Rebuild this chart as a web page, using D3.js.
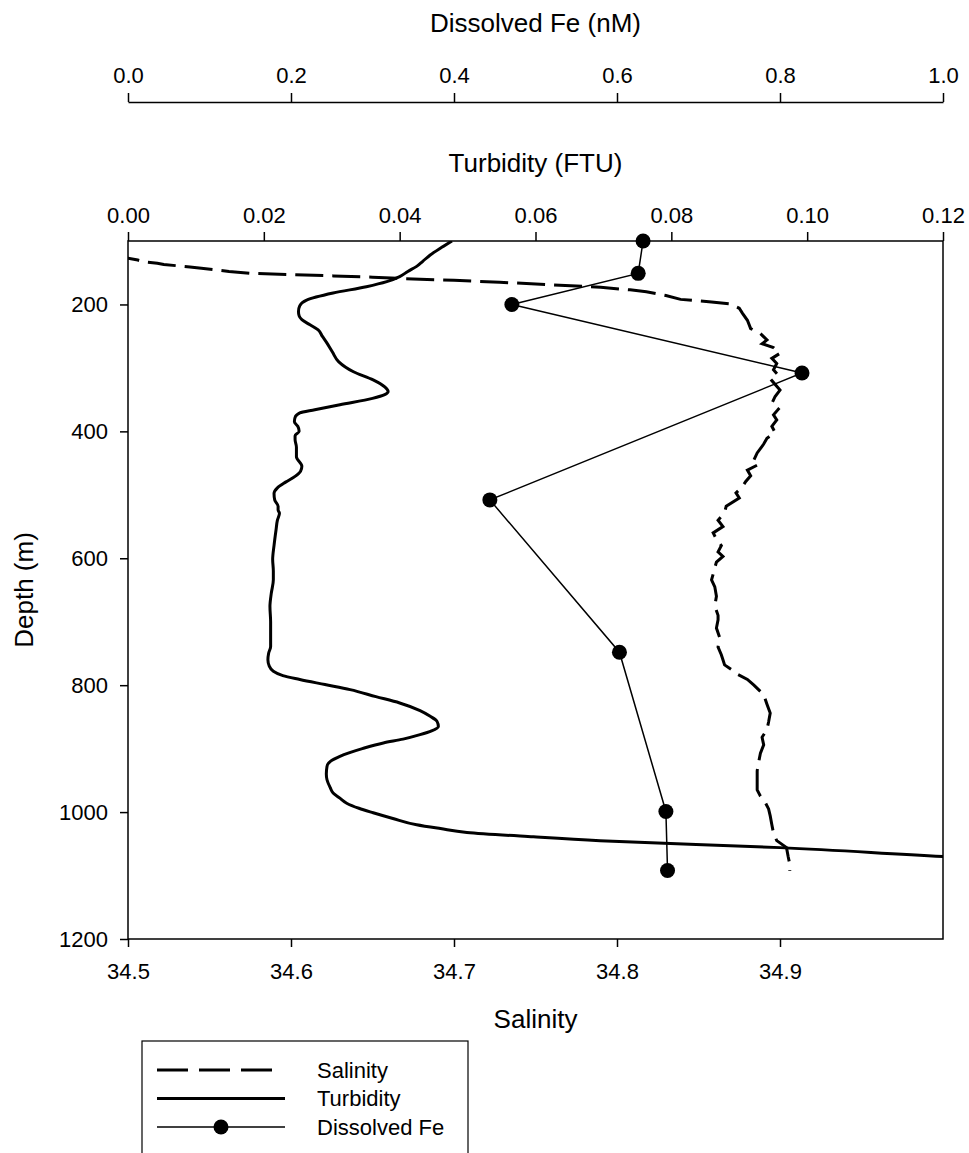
<!DOCTYPE html>
<html>
<head>
<meta charset="utf-8">
<script src="https://cdn.jsdelivr.net/npm/d3@7"></script>
<style>
  body { margin: 0; background: #fff; }
  svg { display: block; font-family: "Liberation Sans", Arial, sans-serif; }
  .axis text { font-size: 22px; fill: #000; }
  .axis line, .axis path { stroke: #000; stroke-width: 1.5; }
  .title { font-size: 26px; fill: #000; }
</style>
</head>
<body>
<div id="chart"></div>
<script>
// depth (m) of each sample
var feDepth = [100, 151, 200, 308, 508, 748, 999, 1092];
var feValue = [0.632, 0.626, 0.471, 0.827, 0.444, 0.603, 0.660, 0.662];

// CTD turbidity profile: [depth, FTU]
var turbidity = [
  [100, 0.0477], [110, 0.0462], [122, 0.0445], [132, 0.0434], [140, 0.0425], [148, 0.0412],
  [156, 0.0400], [164, 0.0381], [172, 0.0351], [182, 0.0302], [193, 0.0263], [202, 0.0253],
  [211, 0.0251], [218, 0.0252], [224, 0.0256], [232, 0.0268], [240, 0.0280], [250, 0.0286],
  [261, 0.0293], [275, 0.0301], [290, 0.0310], [306, 0.0332], [319, 0.0361], [330, 0.0378],
  [337, 0.0383], [342, 0.0378], [348, 0.0360], [358, 0.0312], [366, 0.0275], [371, 0.0253],
  [378, 0.0246], [385, 0.0245], [392, 0.0250], [400, 0.0252], [407, 0.0246], [413, 0.0246],
  [425, 0.0248], [440, 0.0248], [455, 0.0256], [463, 0.0254], [471, 0.0246], [480, 0.0232],
  [489, 0.0220], [498, 0.0215], [508, 0.0216], [518, 0.0221], [524, 0.0221], [529, 0.0223],
  [540, 0.0220], [555, 0.0218], [580, 0.0215], [602, 0.0213], [620, 0.0214], [634, 0.0214],
  [655, 0.0211], [676, 0.0209], [700, 0.0210], [720, 0.0210], [739, 0.0210], [750, 0.0207],
  [760, 0.0206], [770, 0.0208], [778, 0.0214], [785, 0.0228], [791, 0.0253], [799, 0.0290],
  [807, 0.0327], [818, 0.0365], [828, 0.0400], [840, 0.0430], [849, 0.0445], [857, 0.0455],
  [865, 0.0457], [872, 0.0447], [878, 0.0430], [885, 0.0405], [891, 0.0376], [900, 0.0345],
  [912, 0.0312], [920, 0.0298], [928, 0.0293], [940, 0.0292], [949, 0.0293], [962, 0.0298],
  [970, 0.0302], [978, 0.0312], [986, 0.0322], [994, 0.0340], [1001, 0.0361], [1010, 0.0390],
  [1020, 0.0425], [1026, 0.0460], [1032, 0.0499], [1039, 0.0597], [1045, 0.0695],
  [1056, 0.0960], [1070, 0.1200], [1075, 0.1300]
];

// CTD salinity profile: [depth, salinity]
var salinity = [
  [122, 34.490], [127, 34.500], [130, 34.506], [133, 34.510], [135, 34.518], [137, 34.522],
  [139, 34.530], [141, 34.538], [143, 34.545], [145, 34.552], [148, 34.562], [151, 34.575],
  [153, 34.600], [155, 34.626], [157, 34.650], [159, 34.667], [162, 34.700], [165, 34.728],
  [169, 34.760], [173, 34.790], [177, 34.808], [180, 34.818], [186, 34.830], [192, 34.839],
  [196, 34.858], [199, 34.869], [206, 34.875], [214, 34.877], [225, 34.880], [238, 34.882],
  [246, 34.888], [256, 34.892], [262, 34.889], [268, 34.896], [277, 34.900], [285, 34.895],
  [293, 34.898], [303, 34.896], [312, 34.899], [320, 34.895], [335, 34.900], [345, 34.897],
  [356, 34.895], [365, 34.899], [374, 34.896], [382, 34.898], [392, 34.895], [402, 34.897],
  [411, 34.892], [420, 34.890], [434, 34.886], [445, 34.884], [452, 34.887], [461, 34.880],
  [470, 34.882], [479, 34.879], [487, 34.877], [497, 34.873], [505, 34.875], [518, 34.867],
  [528, 34.866], [540, 34.862], [550, 34.865], [560, 34.859], [570, 34.861], [580, 34.864],
  [590, 34.862], [597, 34.865], [606, 34.861], [615, 34.860], [625, 34.859], [634, 34.858],
  [645, 34.860], [660, 34.861], [675, 34.860], [690, 34.862], [697, 34.862], [710, 34.861],
  [725, 34.863], [740, 34.862], [752, 34.864], [760, 34.865], [768, 34.866], [775, 34.870],
  [783, 34.874], [791, 34.880], [800, 34.884], [815, 34.890], [830, 34.892], [844, 34.894],
  [858, 34.893], [870, 34.892], [882, 34.889], [894, 34.890], [907, 34.888], [920, 34.887],
  [935, 34.886], [950, 34.886], [965, 34.886], [975, 34.888], [985, 34.891], [995, 34.893],
  [1006, 34.894], [1020, 34.895], [1033, 34.896], [1045, 34.898], [1056, 34.904],
  [1070, 34.905], [1082, 34.906], [1093, 34.906]
];

var depthTicks = [200, 400, 600, 800, 1000, 1200];
var salTicks = [34.5, 34.6, 34.7, 34.8, 34.9];
var turbTicks = [0, 0.02, 0.04, 0.06, 0.08, 0.10, 0.12];
var feTicks = [0, 0.2, 0.4, 0.6, 0.8, 1.0];
var legendItems = ['Salinity', 'Turbidity', 'Dissolved Fe'];

var W = 969, H = 1153;
var margin = {top: 241, right: 26, bottom: 214, left: 128};
var width = W - margin.left - margin.right;   // 815
var height = H - margin.top - margin.bottom;  // 698

var svg = d3.select('#chart').append('svg')
  .attr('width', W)
  .attr('height', H);

var g = svg.append('g')
  .attr('transform', 'translate(' + margin.left + ',' + margin.top + ')');

// scales
var y = d3.scaleLinear().domain([100, 1200]).range([0, height]);
var xSal = d3.scaleLinear().domain([34.5, 35.0]).range([0, width]);
var xTurb = d3.scaleLinear().domain([0, 0.12]).range([0, width]);
var xFe = d3.scaleLinear().domain([0, 1]).range([0, width]);

g.append('clipPath').attr('id', 'plotclip')
  .append('rect').attr('width', width).attr('height', height);

var plot = g.append('g').attr('clip-path', 'url(#plotclip)');

// salinity (dashed)
var salLine = d3.line()
  .x(function(d) { return xSal(d[1]); })
  .y(function(d) { return y(d[0]); });

plot.append('path')
  .datum(salinity)
  .attr('d', salLine)
  .attr('fill', 'none')
  .attr('stroke', '#000')
  .attr('stroke-width', 3)
  .attr('stroke-dasharray', '28,9');

// turbidity (solid, thick)
var turbLine = d3.line()
  .curve(d3.curveMonotoneY)
  .x(function(d) { return xTurb(d[1]); })
  .y(function(d) { return y(d[0]); });

plot.append('path')
  .datum(turbidity)
  .attr('d', turbLine)
  .attr('fill', 'none')
  .attr('stroke', '#000')
  .attr('stroke-width', 3);

// dissolved Fe (thin line + dots)
var fe = feDepth.map(function(d, i) { return [d, feValue[i]]; });
var feLine = d3.line()
  .x(function(d) { return xFe(d[1]); })
  .y(function(d) { return y(d[0]); });

g.append('path')
  .datum(fe)
  .attr('d', feLine)
  .attr('fill', 'none')
  .attr('stroke', '#000')
  .attr('stroke-width', 1.5);

g.selectAll('.fe-dot')
  .data(fe)
  .enter().append('circle')
  .attr('class', 'fe-dot')
  .attr('cx', function(d) { return xFe(d[1]); })
  .attr('cy', function(d) { return y(d[0]); })
  .attr('r', 7.5)
  .attr('fill', '#000');

// frame
g.append('rect')
  .attr('width', width)
  .attr('height', height)
  .attr('fill', 'none')
  .attr('stroke', '#000')
  .attr('stroke-width', 1.5);

// axes
var leftAxis = g.append('g').attr('class', 'axis')
  .call(d3.axisLeft(y).tickValues(depthTicks).tickSize(8).tickPadding(12).tickFormat(d3.format('d')));
leftAxis.select('.domain').remove();

var bottomAxis = g.append('g').attr('class', 'axis')
  .attr('transform', 'translate(0,' + height + ')')
  .call(d3.axisBottom(xSal).tickValues(salTicks).tickSize(8).tickPadding(16).tickFormat(d3.format('.1f')));
bottomAxis.select('.domain').remove();

var topAxis = g.append('g').attr('class', 'axis')
  .call(d3.axisTop(xTurb).tickValues(turbTicks).tickSize(9).tickPadding(9).tickFormat(d3.format('.2f')));
topAxis.select('.domain').remove();

var feAxis = g.append('g').attr('class', 'axis')
  .attr('transform', 'translate(0,' + (102 - margin.top) + ')')
  .call(d3.axisTop(xFe).tickValues(feTicks).tickSize(9).tickPadding(10).tickSizeOuter(0).tickFormat(d3.format('.1f')));

// axis titles
svg.append('text').attr('class', 'title')
  .attr('x', margin.left + width / 2).attr('y', 32)
  .attr('text-anchor', 'middle')
  .text('Dissolved Fe (nM)');

svg.append('text').attr('class', 'title')
  .attr('x', margin.left + width / 2).attr('y', 172)
  .attr('text-anchor', 'middle')
  .text('Turbidity (FTU)');

svg.append('text').attr('class', 'title')
  .attr('x', margin.left + width / 2).attr('y', 1028)
  .attr('text-anchor', 'middle')
  .text('Salinity');

svg.append('text').attr('class', 'title')
  .attr('transform', 'translate(33,' + (margin.top + height / 2) + ') rotate(-90)')
  .attr('text-anchor', 'middle')
  .text('Depth (m)');

// legend
var legend = svg.append('g').attr('transform', 'translate(142,1041)');
legend.append('rect')
  .attr('width', 326).attr('height', 160)
  .attr('fill', 'none').attr('stroke', '#000').attr('stroke-width', 1.2);

var rows = legend.selectAll('.row')
  .data(legendItems)
  .enter().append('g')
  .attr('class', 'row')
  .attr('transform', function(d, i) { return 'translate(0,' + (29 + i * 28.5) + ')'; });

rows.append('line')
  .attr('x1', 15).attr('x2', function(d, i) { return i === 0 ? 131 : 143; })
  .attr('stroke', '#000')
  .attr('stroke-width', function(d, i) { return i === 2 ? 1.5 : 3; })
  .attr('stroke-dasharray', function(d, i) { return i === 0 ? '31,11' : null; });

rows.filter(function(d, i) { return i === 2; })
  .append('circle')
  .attr('cx', 79).attr('r', 7.5).attr('fill', '#000');

rows.append('text')
  .attr('x', 175).attr('dy', '0.35em')
  .style('font-size', '22px')
  .text(function(d) { return d; });
</script>
</body>
</html>
